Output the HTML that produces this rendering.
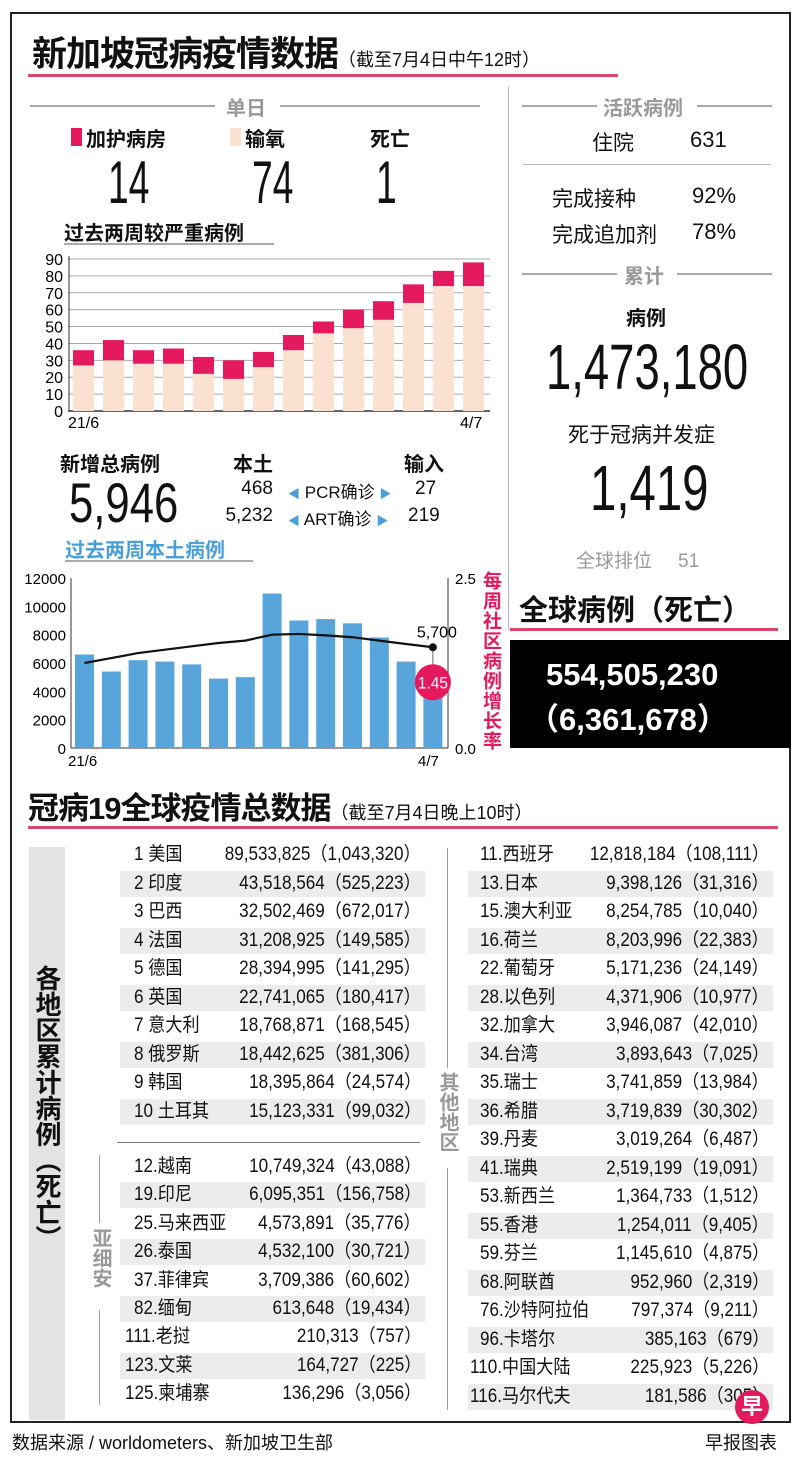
<!DOCTYPE html>
<html><head><meta charset="utf-8">
<style>
*{margin:0;padding:0;box-sizing:border-box}
body{width:800px;height:1457px;background:#fff;position:relative;overflow:hidden;font-family:"Liberation Sans","Noto Sans CJK SC",sans-serif;color:#111}
.a{position:absolute;white-space:nowrap}
.n{transform-origin:0 0;display:inline-block}
.b{font-weight:bold}
.g{color:#999}
.hl{position:absolute;height:2px;background:#aaa}
.row{position:absolute;height:26px;font-size:19px;line-height:26px}
.row.s{background:#ececec}
.row .nm{position:absolute;top:0;transform:scaleX(0.9);transform-origin:0 0}
.row .v{position:absolute;top:0;right:4px;transform:scaleX(0.9);transform-origin:100% 0}
.vt{writing-mode:vertical-rl;text-orientation:upright;position:absolute}
</style></head>
<body>
<div class="a" style="left:10px;top:12px;width:781px;height:1411px;border:2px solid #222"></div>

<div class="a b" style="left:32px;top:26px;font-size:35px;letter-spacing:-1px">新加坡冠病疫情数据<span style="font-size:18px;font-weight:normal;letter-spacing:0">（截至7月4日中午12时）</span></div>
<div class="a" style="left:28px;top:74px;width:590px;height:3px;background:#d9476a"></div>
<div class="a" style="left:508px;top:86px;width:1px;height:544px;background:#bbb"></div>

<!-- daily -->
<div class="hl" style="left:30px;top:105px;width:185px"></div>
<div class="a b g" style="left:226px;top:92px;font-size:20px">单日</div>
<div class="hl" style="left:280px;top:105px;width:200px"></div>
<div class="a" style="left:71px;top:128px;width:11px;height:18px;background:#e5195d"></div>
<div class="a b" style="left:86px;top:123px;font-size:20px">加护病房</div>
<div class="a" style="left:230px;top:128px;width:11px;height:18px;background:#fbe1cf"></div>
<div class="a b" style="left:245px;top:123px;font-size:20px">输氧</div>
<div class="a b" style="left:370px;top:123px;font-size:20px">死亡</div>
<div class="a n" style="left:108px;top:148px;font-size:60px;transform:scaleX(0.62)">14</div>
<div class="a n" style="left:252px;top:148px;font-size:60px;transform:scaleX(0.62)">74</div>
<div class="a n" style="left:376px;top:148px;font-size:60px;transform:scaleX(0.62)">1</div>
<div class="a b" style="left:64px;top:217px;font-size:20px">过去两周较严重病例</div>
<div class="a" style="left:64px;top:243px;width:210px;height:2px;background:#aaa"></div>

<svg class="a" style="left:0;top:0" width="510" height="440" id="c1"></svg>

<!-- new cases -->
<div class="a b" style="left:60px;top:448px;font-size:20px">新增总病例</div>
<div class="a n" style="left:69px;top:470px;font-size:56px;transform:scaleX(0.78)">5,946</div>
<div class="a b" style="left:233px;top:448px;font-size:20px">本土</div>
<div class="a b" style="left:404px;top:448px;font-size:20px">输入</div>
<div class="a" style="left:200px;top:478px;width:73px;text-align:right;font-size:19px">468</div>
<div class="a" style="left:200px;top:505px;width:73px;text-align:right;font-size:19px">5,232</div>
<div class="a" style="left:288px;top:478px;font-size:17px"><span style="color:#4a9fd8;font-size:12px">◀</span> PCR确诊 <span style="color:#4a9fd8;font-size:12px">▶</span></div>
<div class="a" style="left:288px;top:505px;font-size:17px"><span style="color:#4a9fd8;font-size:12px">◀</span> ART确诊 <span style="color:#4a9fd8;font-size:12px">▶</span></div>
<div class="a" style="left:415px;top:478px;font-size:19px">27</div>
<div class="a" style="left:408px;top:505px;font-size:19px">219</div>
<div class="a b" style="left:65px;top:534px;font-size:20px;color:#4a9fd8">过去两周本土病例</div>
<div class="a" style="left:65px;top:560px;width:188px;height:2px;background:#aaa"></div>

<svg class="a" style="left:0;top:0" width="510" height="780" id="c2"></svg>
<div class="vt b" style="left:478px;top:571px;font-size:19px;line-height:24px;color:#e5195d;letter-spacing:1px">每周社区病例增长率</div>

<!-- right column -->
<div class="hl" style="left:522px;top:105px;width:75px"></div>
<div class="a b g" style="left:603px;top:92px;font-size:20px">活跃病例</div>
<div class="hl" style="left:697px;top:105px;width:75px"></div>
<div class="a" style="left:592px;top:127px;font-size:21px">住院</div>
<div class="a" style="left:690px;top:127px;font-size:22px">631</div>
<div class="a" style="left:523px;top:164px;width:248px;height:1px;background:#bbb"></div>
<div class="a" style="left:552px;top:183px;font-size:21px">完成接种</div>
<div class="a" style="left:692px;top:183px;font-size:22px">92%</div>
<div class="a" style="left:552px;top:219px;font-size:21px">完成追加剂</div>
<div class="a" style="left:692px;top:219px;font-size:22px">78%</div>
<div class="hl" style="left:522px;top:273px;width:95px"></div>
<div class="a b g" style="left:624px;top:260px;font-size:20px">累计</div>
<div class="hl" style="left:677px;top:273px;width:95px"></div>
<div class="a b" style="left:626px;top:302px;font-size:20px">病例</div>
<div class="a n" style="left:546px;top:330px;font-size:64px;transform:scaleX(0.71)">1,473,180</div>
<div class="a" style="left:568px;top:419px;font-size:21px">死于冠病并发症</div>
<div class="a n" style="left:590px;top:451px;font-size:64px;transform:scaleX(0.74)">1,419</div>
<div class="a g" style="left:576px;top:546px;font-size:19px">全球排位<span style="margin-left:26px">51</span></div>
<div class="a b" style="left:519px;top:587px;font-size:29px">全球病例（死亡）</div>
<div class="a" style="left:510px;top:628px;width:268px;height:3px;background:#d9476a"></div>
<div class="a" style="left:510px;top:640px;width:281px;height:108px;background:#000"></div>
<div class="a b" style="left:546px;top:657px;font-size:31px;color:#fff">554,505,230</div>
<div class="a b" style="left:528px;top:694px;font-size:31px;color:#fff">（6,361,678）</div>

<!-- global table -->
<div class="a b" style="left:28px;top:783px;font-size:31px;letter-spacing:-1px">冠病19全球疫情总数据<span style="font-size:18px;font-weight:normal;letter-spacing:0">（截至7月4日晚上10时）</span></div>
<div class="a" style="left:28px;top:826px;width:750px;height:3px;background:#d9476a"></div>
<div class="a" style="left:29px;top:847px;width:36px;height:573px;background:#e3e3e3"></div>
<div class="vt b" style="left:32px;top:965px;font-size:26px;line-height:30px">各地区累计病例（死亡）</div>
<div class="a" style="left:99px;top:1155px;width:1px;height:68px;background:#999"></div>
<div class="vt b g" style="left:89px;top:1228px;font-size:20px;line-height:22px">亚细安</div>
<div class="a" style="left:99px;top:1310px;width:1px;height:95px;background:#999"></div>
<div class="a" style="left:117px;top:1142px;width:303px;height:1px;background:#777"></div>
<div class="a" style="left:447px;top:848px;width:1px;height:220px;background:#999"></div>
<div class="vt b g" style="left:436px;top:1072px;font-size:20px;line-height:22px">其他地区</div>
<div class="a" style="left:447px;top:1168px;width:1px;height:242px;background:#999"></div>

<div id="tbl"></div>

<div class="a" style="left:735px;top:1390px;width:34px;height:34px;border-radius:50%;background:#e5195d;color:#fff;font-weight:bold;font-size:22px;text-align:center;line-height:34px">早</div>
<div class="a" style="left:12px;top:1429px;font-size:18px">数据来源 / worldometers、新加坡卫生部</div>
<div class="a" style="left:705px;top:1429px;font-size:18px">早报图表</div>

<script>
// severe chart data
const sevCats = ['21/6','22/6','23/6','24/6','25/6','26/6','27/6','28/6','29/6','30/6','1/7','2/7','3/7','4/7'];
const sevOxygen = [27,30,28,28,22,19,26,36,46,49,54,64,74,74];
const sevIcu = [9,12,8,9,10,11,9,9,7,11,11,11,9,14];
const sevTicks = [0,10,20,30,40,50,60,70,80,90];
// local chart data
const locCats = ['21/6','22/6','23/6','24/6','25/6','26/6','27/6','28/6','29/6','30/6','1/7','2/7','3/7','4/7'];
const locCases = [6600,5400,6200,6100,5900,4900,5000,10900,9000,9100,8800,7800,6100,5200];
const locAvg = [6000,6350,6700,6940,7180,7410,7580,8000,8050,7950,7820,7580,7340,7110];
const locTicks = [0,2000,4000,6000,8000,10000,12000];
const rateTicks = ['0.0','2.5'];
const lastRate = '1.45';
const lastAvgLabel = '5,700';

const NS='http://www.w3.org/2000/svg';
function mk(svg,tag,at,txt){const e=document.createElementNS(NS,tag);for(const k in at)e.setAttribute(k,at[k]);if(txt!==undefined)e.textContent=txt;svg.appendChild(e);return e;}

// chart 1
(function(){
 const s=document.getElementById('c1');
 const x0=73,step=30,bw=21,y0=411,yTop=259,max=90;
 const y=v=>y0-(v/max)*(y0-yTop);
 const x=i=>x0+i*step;
 sevTicks.forEach(t=>{
  const l=mk(s,'line',{x1:68,x2:490,y1:y(t),y2:y(t),stroke:t===0?'#333':'#aaa','stroke-width':t===0?1.5:1});
  
  const tx=mk(s,'text',{x:63,y:y(t)+6,'text-anchor':'end','font-size':16,'font-family':'Liberation Sans'},t);
  
 });
 mk(s,'line',{x1:69,x2:69,y1:y0,y2:yTop-3,stroke:'#333'});
 sevCats.forEach((c,i)=>{
  const r1=mk(s,'rect',{x:x(i),y:y(sevOxygen[i]),width:bw,height:y0-y(sevOxygen[i]),fill:'#fbe1cf'});
  
  const r2=mk(s,'rect',{x:x(i),y:y(sevOxygen[i]+sevIcu[i]),width:bw,height:y(sevOxygen[i])-y(sevOxygen[i]+sevIcu[i]),fill:'#e5195d'});
  
 });
 const a=mk(s,'text',{x:68,y:428,'font-size':16,'font-family':'Liberation Sans'},sevCats[0]);
 
 const b=mk(s,'text',{x:x(sevCats.length-1)-3,y:428,'font-size':16,'font-family':'Liberation Sans'},sevCats[sevCats.length-1]);
 
})();

// chart 2
(function(){
 const s=document.getElementById('c2');
 const x0=75,step=26.8,bw=19,y0=748,yTop=578,max=12000;
 const y=v=>y0-(v/max)*(y0-yTop);
 const x=i=>x0+i*step;
 locTicks.forEach(t=>{
  const tx=mk(s,'text',{x:66,y:y(t)+6,'text-anchor':'end','font-size':15,'font-family':'Liberation Sans'},t);
  
 });
 mk(s,'line',{x1:71,x2:71,y1:yTop,y2:y0,stroke:'#333'});
 mk(s,'line',{x1:448,x2:448,y1:yTop,y2:y0,stroke:'#333'});
 mk(s,'line',{x1:71,x2:448,y1:y0,y2:y0,stroke:'#333'});
 const rt0=mk(s,'text',{x:455,y:y0+6,'font-size':15,'font-family':'Liberation Sans'},rateTicks[0]);
 
 const rt1=mk(s,'text',{x:455,y:yTop+6,'font-size':15,'font-family':'Liberation Sans'},rateTicks[1]);
 
 locCases.forEach((v,i)=>{
  const r=mk(s,'rect',{x:x(i),y:y(v),width:bw,height:y0-y(v),fill:'#58a5dc'});
  
 });
 const pts=locAvg.map((v,i)=>(x(i)+bw/2)+','+y(v)).join(' ');
 const pl=mk(s,'polyline',{points:pts,fill:'none',stroke:'#111','stroke-width':2.2});
 
 const li=locAvg.length-1,lx=x(li)+bw/2,ly=y(locAvg[li]);
 mk(s,'line',{x1:lx,x2:lx,y1:ly,y2:ly+30,stroke:'#666'});
 const d=mk(s,'circle',{cx:lx,cy:ly,r:4,fill:'#111'});
 
 const lt=mk(s,'text',{x:lx+4,y:ly-10,'text-anchor':'middle','font-size':16,'font-family':'Liberation Sans'},lastAvgLabel);
 
 const c=mk(s,'circle',{cx:lx,cy:ly+35,r:18,fill:'#e5195d'});
 
 const ct=mk(s,'text',{x:lx,y:ly+41,'text-anchor':'middle','font-size':17,fill:'#fff','font-family':'Liberation Sans',textLength:30,lengthAdjust:'spacingAndGlyphs'},lastRate);
 
 const a=mk(s,'text',{x:68,y:766,'font-size':15,'font-family':'Liberation Sans'},locCats[0]);
 
 const b=mk(s,'text',{x:418,y:766,'font-size':15,'font-family':'Liberation Sans'},locCats[locCats.length-1]);
 
})();

// table
const top10 = [['1 美国','89,533,825（1,043,320）'],['2 印度','43,518,564（525,223）'],['3 巴西','32,502,469（672,017）'],['4 法国','31,208,925（149,585）'],['5 德国','28,394,995（141,295）'],['6 英国','22,741,065（180,417）'],['7 意大利','18,768,871（168,545）'],['8 俄罗斯','18,442,625（381,306）'],['9 韩国','18,395,864（24,574）'],['10 土耳其','15,123,331（99,032）']];
const asean = [['12.越南','10,749,324（43,088）',134],['19.印尼','6,095,351（156,758）',134],['25.马来西亚','4,573,891（35,776）',134],['26.泰国','4,532,100（30,721）',134],['37.菲律宾','3,709,386（60,602）',134],['82.缅甸','613,648（19,434）',134],['111.老挝','210,313（757）',125],['123.文莱','164,727（225）',125],['125.柬埔寨','136,296（3,056）',125]];
const others = [['11.西班牙','12,818,184（108,111）'],['13.日本','9,398,126（31,316）'],['15.澳大利亚','8,254,785（10,040）'],['16.荷兰','8,203,996（22,383）'],['22.葡萄牙','5,171,236（24,149）'],['28.以色列','4,371,906（10,977）'],['32.加拿大','3,946,087（42,010）'],['34.台湾','3,893,643（7,025）'],['35.瑞士','3,741,859（13,984）'],['36.希腊','3,719,839（30,302）'],['39.丹麦','3,019,264（6,487）'],['41.瑞典','2,519,199（19,091）'],['53.新西兰','1,364,733（1,512）'],['55.香港','1,254,011（9,405）'],['59.芬兰','1,145,610（4,875）'],['68.阿联酋','952,960（2,319）'],['76.沙特阿拉伯','797,374（9,211）'],['96.卡塔尔','385,163（679）'],['110.中国大陆','225,923（5,226）'],['116.马尔代夫','181,586（305）']];
const tbl=document.getElementById('tbl');
function row(left,top,width,nameX,name,val,shaded){
 const r=document.createElement('div');
 r.className='row'+(shaded?' s':'');
 r.style.left=left+'px';r.style.top=top+'px';r.style.width=width+'px';
 
 
 r.innerHTML='<span class="nm" style="left:'+(nameX-left)+'px">'+name+'</span><span class="v">'+val+'</span>';
 tbl.appendChild(r);
}
top10.forEach((d,i)=>row(120,842+i*28.5,305,134,d[0],d[1],i%2===1));
asean.forEach((d,i)=>row(120,1154+i*28.4,305,d[2],d[0],d[1],i%2===1));
others.forEach((d,i)=>row(468,842+i*28.5,305,i>=18?470:480,d[0],d[1],i%2===1));
</script>
</body></html>
